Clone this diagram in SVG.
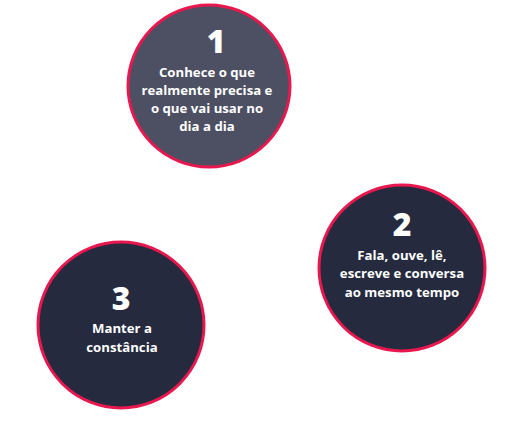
<svg xmlns="http://www.w3.org/2000/svg" width="511" height="443" viewBox="0 0 511 443">
<style>
.c{stroke:#e8184f;stroke-width:3}
.num{font-family:"Open Sans","Liberation Sans",sans-serif;font-weight:800;font-size:32px;fill:#fff;text-anchor:middle}
.t{font-family:"Open Sans","Liberation Sans",sans-serif;font-weight:700;font-size:13.2px;fill:#fff;text-anchor:middle}
</style>
<rect width="511" height="443" fill="#fff"/>
<g id="connectors"></g>
<g id="node1">
<circle class="c" cx="209" cy="86" r="81" fill="#4d5063"/>
<text class="num" x="216" y="53">1</text>
<text class="t" x="207" y="77">Conhece o que</text>
<text class="t" x="207" y="95">realmente precisa e</text>
<text class="t" x="207" y="113">o que vai usar no</text>
<text class="t" x="207" y="131">dia a dia</text>
</g>
<g id="node2">
<circle class="c" cx="402" cy="268" r="83" fill="#252a3e"/>
<text class="num" x="402" y="236">2</text>
<text class="t" x="402" y="260">Fala, ouve, lê,</text>
<text class="t" x="402" y="278">escreve e conversa</text>
<text class="t" x="402" y="297">ao mesmo tempo</text>
</g>
<g id="node3">
<circle class="c" cx="121" cy="325" r="83" fill="#252a3e"/>
<text class="num" x="121" y="310">3</text>
<text class="t" x="122" y="333">Manter a</text>
<text class="t" x="122" y="352">constância</text>
</g>
</svg>
